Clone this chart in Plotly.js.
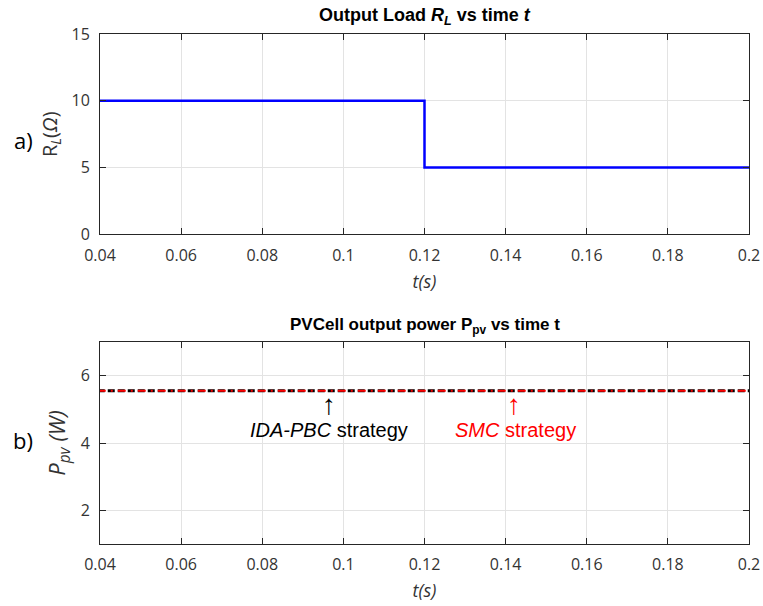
<!DOCTYPE html>
<html>
<head>
<meta charset="utf-8">
<script src="https://cdn.plot.ly/plotly-3.0.1.min.js"></script>
<style>html,body{margin:0;padding:0;background:#fff;}#plot{width:763px;height:606px;}</style>
</head>
<body>
<div id="plot"></div>
<script>
// Panel a) data: output load
const tLoad = [0, 0.12, 0.12, 0.2];
const rLoad = [10, 10, 5, 5];
// Panel b) data: PV power
const tPower = [0, 0.2];
const pIDA = [5.55, 5.55];
const pSMC = [5.55, 5.55];
const xTicks = [0.04, 0.06, 0.08, 0.1, 0.12, 0.14, 0.16, 0.18, 0.2];
const xTickText = ['0.04', '0.06', '0.08', '0.1', '0.12', '0.14', '0.16', '0.18', '0.2'];
const yTicksA = [0, 5, 10, 15];
const yTicksB = [2, 4, 6];

const tickFont = {family: 'Open Sans, Noto Sans, sans-serif', size: 16, color: '#333333'};
const gridC = '#e3e3e3';
const lineC = '#262626';

function xAxis(anchor) {
  return {
    anchor: anchor, range: [0.04, 0.2], tickvals: xTicks, ticktext: xTickText,
    showgrid: true, gridcolor: gridC, gridwidth: 1, zeroline: false,
    showline: true, linecolor: lineC, linewidth: 1, mirror: 'ticks',
    ticks: 'inside', ticklen: 6, tickcolor: lineC, tickfont: tickFont, ticklabelstandoff: 6,
    title: {text: '<i>t(s)</i>', font: {family: 'Open Sans, Noto Sans, sans-serif', size: 18, color: '#333333'}, standoff: 10}
  };
}
function yAxis(anchor, range, ticks, title, domain, size) {
  return {
    anchor: anchor, domain: domain, range: range, tickvals: ticks,
    showgrid: true, gridcolor: gridC, gridwidth: 1, zeroline: false,
    showline: true, linecolor: lineC, linewidth: 1, mirror: 'ticks',
    ticks: 'inside', ticklen: 6, tickcolor: lineC, tickfont: tickFont, ticklabelstandoff: 6,
    title: {text: title, font: {family: 'Open Sans, Noto Sans, sans-serif', size: size, color: '#333333'}, standoff: 8}
  };
}

const traces = [
  {x: tLoad, y: rLoad, xaxis: 'x', yaxis: 'y', mode: 'lines', line: {color: '#0000ff', width: 2.5}, hoverinfo: 'none'},
  {x: tPower, y: pIDA, xaxis: 'x2', yaxis: 'y2', mode: 'lines', line: {color: '#000000', width: 3, dash: '7px,3px'}, hoverinfo: 'none'},
  {x: tPower, y: pSMC, xaxis: 'x2', yaxis: 'y2', mode: 'lines', line: {color: '#ff0000', width: 2, dash: '8px,5px,2px,5px'}, hoverinfo: 'none'}
];

const annFont = 'Liberation Sans, Arial, sans-serif';
const layout = {
  width: 763, height: 606,
  margin: {l: 100, r: 14, t: 34, b: 62},
  paper_bgcolor: '#ffffff', plot_bgcolor: '#ffffff',
  showlegend: false,
  xaxis: xAxis('y'),
  yaxis: yAxis('x', [0, 15], yTicksA, 'R<sub><i>L</i></sub>(<i>Ω</i>)', [0.607, 1], 20),
  xaxis2: xAxis('y2'),
  yaxis2: yAxis('x2', [1, 7], yTicksB, '<i>P<sub>pv</sub> (W)</i>', [0, 0.396], 22),
  annotations: [
    {xref: 'paper', yref: 'paper', x: 0.5, y: 1, yshift: 18, xanchor: 'center', yanchor: 'middle', showarrow: false,
     text: '<b>Output Load <i>R<sub>L</sub></i> vs time <i>t</i></b>', font: {family: annFont, size: 18, color: '#000'}},
    {xref: 'paper', yref: 'paper', x: 0.5, y: 0.396, yshift: 16, xanchor: 'center', yanchor: 'middle', showarrow: false,
     text: '<b>PVCell output power P<sub>pv</sub> vs time t</b>', font: {family: annFont, size: 17, color: '#000'}},
    {xref: 'paper', yref: 'paper', x: -0.118, y: 0.792, xanchor: 'center', yanchor: 'middle', showarrow: false,
     text: 'a)', font: {family: 'Open Sans, Noto Sans, sans-serif', size: 22, color: '#000'}},
    {xref: 'paper', yref: 'paper', x: -0.118, y: 0.204, xanchor: 'center', yanchor: 'middle', showarrow: false,
     text: 'b)', font: {family: 'Open Sans, Noto Sans, sans-serif', size: 22, color: '#000'}},
    {xref: 'x2', yref: 'y2', x: 0.0965, y: 5.14, xanchor: 'center', yanchor: 'middle', showarrow: false,
     text: '↑', font: {family: 'Liberation Sans, sans-serif', size: 28, color: '#000'}},
    {xref: 'x2', yref: 'y2', x: 0.0965, y: 4.38, xanchor: 'center', yanchor: 'middle', showarrow: false,
     text: '<i>IDA-PBC</i> strategy', font: {family: annFont, size: 20, color: '#000'}},
    {xref: 'x2', yref: 'y2', x: 0.142, y: 5.14, xanchor: 'center', yanchor: 'middle', showarrow: false,
     text: '↑', font: {family: 'Liberation Sans, sans-serif', size: 28, color: '#ff0000'}},
    {xref: 'x2', yref: 'y2', x: 0.1425, y: 4.38, xanchor: 'center', yanchor: 'middle', showarrow: false,
     text: '<i>SMC</i> strategy', font: {family: annFont, size: 20, color: '#ff0000'}}
  ]
};

Plotly.newPlot('plot', traces, layout, {displayModeBar: false, staticPlot: true});
</script>
</body>
</html>
